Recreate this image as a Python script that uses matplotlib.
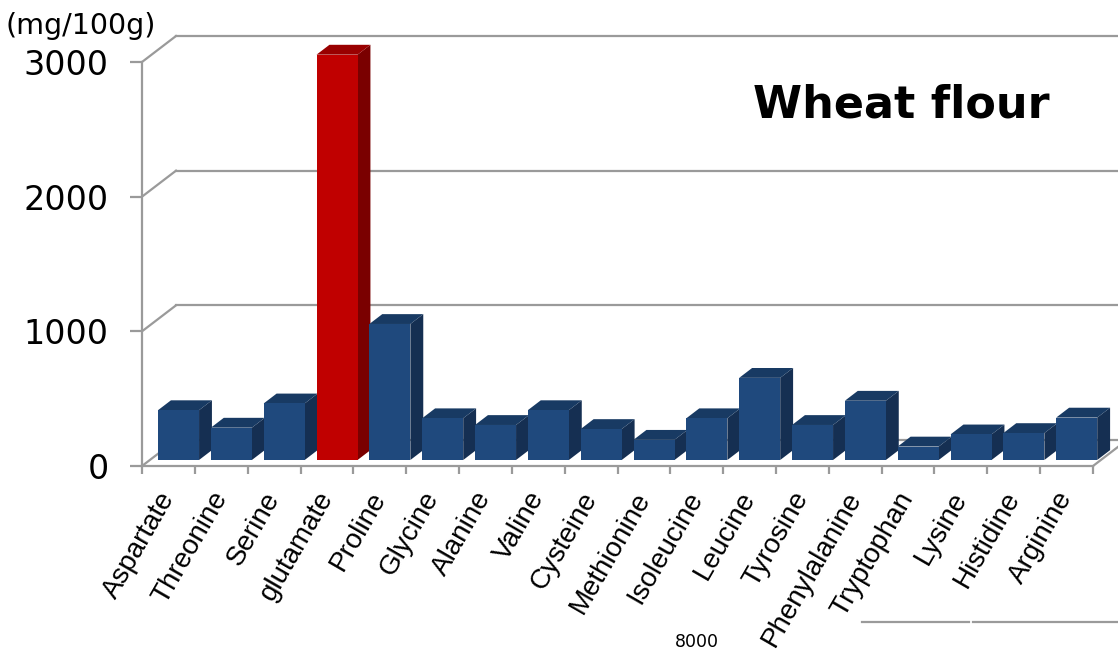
import matplotlib.pyplot as plt
from matplotlib.patches import Polygon
from matplotlib.lines import Line2D

# amino acid content of wheat flour (mg/100g)
amino_acids = ["Aspartate", "Threonine", "Serine", "glutamate", "Proline", "Glycine",
               "Alanine", "Valine", "Cysteine", "Methionine", "Isoleucine", "Leucine",
               "Tyrosine", "Phenylalanine", "Tryptophan", "Lysine", "Histidine", "Arginine"]
amounts = [370, 240, 420, 3010, 1010, 310, 260, 370, 230, 150, 310, 610,
           260, 440, 100, 190, 200, 315]
highlight = "glutamate"
y_ticks = [0, 1000, 2000, 3000]

# oblique depth of the chart box, in category / value units
DX = 0.6436
DY = 193
Z0, Z1 = 0.231, 0.61        # bar front and back depth (fraction of box depth)
BAR_L, BAR_W = 0.155, 0.776

GRID = "#9a9a9a"
blue = ("#1f497d", "#183a63", "#152f52")   # front, top, side
red = ("#c00000", "#990000", "#7a0000")

fig = plt.figure(figsize=(11.18, 6.49), dpi=100)
ax = fig.add_axes([142 / 1118, 183 / 649, 951 / 1118, 404 / 649])
ax.set_xlim(0, len(amino_acids))
ax.set_ylim(0, 3000)

# walls: left side diagonals and back wall gridlines
n = len(amino_acids)
for v in y_ticks:
    ax.plot([0, DX], [v, v + DY], color=GRID, lw=1.6, clip_on=False, zorder=1)
    ax.plot([DX, n + DX], [v + DY, v + DY], color=GRID, lw=1.6, clip_on=False, zorder=1)
ax.plot([n, n + DX], [0, DY], color=GRID, lw=1.6, clip_on=False, zorder=1)

# 3-D looking bars: side, top and front faces
for i, (name, val) in enumerate(zip(amino_acids, amounts)):
    front, top, side = red if name == highlight else blue
    zo = 3 + i * 0.01
    l = i + BAR_L
    r = l + BAR_W
    x0, y0 = Z0 * DX, Z0 * DY
    x1, y1 = Z1 * DX, Z1 * DY
    ax.add_patch(Polygon([(r + x0, y0), (r + x0, val + y0), (r + x1, val + y1), (r + x1, y1)],
                         closed=True, facecolor=side, edgecolor="none", clip_on=False, zorder=zo))
    ax.add_patch(Polygon([(l + x0, val + y0), (r + x0, val + y0), (r + x1, val + y1), (l + x1, val + y1)],
                         closed=True, facecolor=top, edgecolor="none", clip_on=False, zorder=zo))
    ax.bar(l + x0, val, width=BAR_W, bottom=y0, align="edge", color=front,
           edgecolor="none", clip_on=False, zorder=zo + 0.001)

for s in ["top", "right"]:
    ax.spines[s].set_visible(False)
for s in ["left", "bottom"]:
    ax.spines[s].set_color(GRID)
    ax.spines[s].set_linewidth(1.6)

ax.set_yticks(y_ticks)
ax.set_yticklabels([str(v) for v in y_ticks], fontsize=24, family="DejaVu Sans")
ax.tick_params(axis="y", direction="out", length=9, width=1.6, color=GRID, pad=15)

ax.set_xticks(range(n + 1))
ax.set_xticklabels([])
ax.tick_params(axis="x", which="major", direction="out", length=5.5, width=1.6, color=GRID)
ax.set_xticks([i + 0.5 for i in range(n)], minor=True)
ax.set_xticklabels(amino_acids, minor=True, fontsize=20, family="Liberation Sans",
                   rotation=60, ha="right", va="center", rotation_mode="anchor")
ax.tick_params(axis="x", which="minor", length=0, pad=20)

fig.text(6 / 1118, 1 - 12 / 649, "(mg/100g)", fontsize=20.5, va="top", ha="left")
fig.text(753 / 1118, 1 - 117 / 649, "Wheat flour", fontsize=32, weight="bold",
         va="baseline", ha="left")

# bits of the neighbouring chart below
fig.text(675 / 1118, 1 - 633 / 649, "8000", fontsize=12.5, va="top", ha="left")
fig.add_artist(Line2D([862 / 1118, 969 / 1118], [1 - 622 / 649] * 2, color=GRID, lw=1.6))
fig.add_artist(Line2D([973 / 1118, 1.0], [1 - 622 / 649] * 2, color=GRID, lw=1.6))

fig.savefig("out.png", dpi=100)
